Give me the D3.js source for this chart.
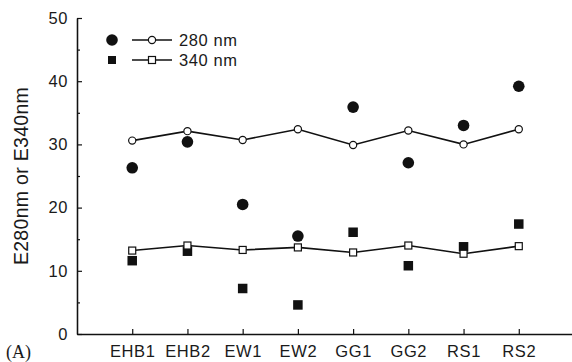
<!DOCTYPE html>
<html>
<head>
<meta charset="utf-8">
<script src="https://cdn.jsdelivr.net/npm/d3@7"></script>
<style>
  html, body { margin: 0; padding: 0; background: #fff; }
  svg text { font-family: "Liberation Sans", Arial, sans-serif; fill: #1a1a1a; }
</style>
</head>
<body>
<svg id="chart" width="572" height="362"></svg>
<script>
// Samples
const categories = ["EHB1", "EHB2", "EW1", "EW2", "GG1", "GG2", "RS1", "RS2"];

// Individual measurements (filled markers)
const e280Points = [26.3, 30.4, 20.5, 15.5, 35.9, 27.1, 33.0, 39.2];
const e340Points = [11.6, 13.1, 7.2, 4.6, 16.1, 10.8, 13.8, 17.4];

// Connected series (open markers)
const e280Line = [30.6, 32.1, 30.7, 32.4, 29.9, 32.2, 30.0, 32.4];
const e340Line = [13.2, 14.0, 13.3, 13.7, 12.9, 14.0, 12.7, 13.9];

const yMajorTicks = [0, 10, 20, 30, 40, 50];
const yMinorTicks = [5, 15, 25, 35, 45];
const legendLabels = ["280 nm", "340 nm"];

const svg = d3.select("#chart");
const plotLeft = 77, plotRight = 574, plotTop = 18, plotBottom = 334;

const x = d3.scalePoint().domain(categories).range([plotLeft, plotRight]).padding(1);
const y = d3.scaleLinear().domain([0, 50]).range([plotBottom, plotTop]);

// Axes (ticks point inward)
const gy = svg.append("g").attr("transform", `translate(${plotLeft},0)`);
gy.append("g").call(d3.axisLeft(y).tickValues(yMinorTicks).tickSizeInner(-3).tickSizeOuter(0).tickFormat(""));
gy.append("g").call(d3.axisLeft(y).tickValues(yMajorTicks).tickSizeInner(-5).tickSizeOuter(0).tickPadding(9));

const gx = svg.append("g").attr("transform", `translate(0,${plotBottom})`);
gx.call(d3.axisBottom(x).tickSizeInner(-5).tickSizeOuter(0).tickPadding(11));

svg.selectAll(".domain").attr("stroke", "#111").attr("stroke-width", 1.3);
svg.selectAll(".tick line").attr("stroke", "#111").attr("stroke-width", 1.2);
svg.selectAll(".tick text")
  .attr("font-size", 16.5)
  .attr("letter-spacing", 0.6)
  .style("font-family", "'Liberation Sans', Arial, sans-serif")
  .attr("fill", "#1a1a1a");

// Y axis title
svg.append("text")
  .attr("transform", `translate(28,${(plotTop + plotBottom) / 2}) rotate(-90)`)
  .attr("text-anchor", "middle")
  .attr("font-size", 19.5)
  .attr("letter-spacing", 0.3)
  .text("E280nm or E340nm");

// Panel label
svg.append("text")
  .attr("x", 6).attr("y", 358)
  .style("font-family", "'Liberation Serif', 'Times New Roman', serif")
  .attr("font-size", 18)
  .text("(A)");

// Filled markers (drawn beneath the connected series)
svg.append("g").selectAll("circle").data(e280Points).join("circle")
  .attr("cx", (d, i) => x(categories[i]))
  .attr("cy", d => y(d))
  .attr("r", 5.8)
  .attr("fill", "#111");

const fs = 9.5;
svg.append("g").selectAll("rect").data(e340Points).join("rect")
  .attr("x", (d, i) => x(categories[i]) - fs / 2)
  .attr("y", d => y(d) - fs / 2)
  .attr("width", fs).attr("height", fs)
  .attr("fill", "#111");

// Connected series
const line = d3.line().x((d, i) => x(categories[i])).y(d => y(d));
[e280Line, e340Line].forEach(s => {
  svg.append("path").datum(s)
    .attr("d", line)
    .attr("fill", "none")
    .attr("stroke", "#111")
    .attr("stroke-width", 1.6);
});

svg.append("g").selectAll("circle").data(e280Line).join("circle")
  .attr("cx", (d, i) => x(categories[i]))
  .attr("cy", d => y(d))
  .attr("r", 3.6)
  .attr("fill", "#fff")
  .attr("stroke", "#111")
  .attr("stroke-width", 1.2);

const os = 7;
svg.append("g").selectAll("rect").data(e340Line).join("rect")
  .attr("x", (d, i) => x(categories[i]) - os / 2)
  .attr("y", d => y(d) - os / 2)
  .attr("width", os).attr("height", os)
  .attr("fill", "#fff")
  .attr("stroke", "#111")
  .attr("stroke-width", 1.2);

// Legend
const lg = svg.append("g");
legendLabels.forEach((lab, i) => {
  const ly = 40 + i * 20;
  if (i === 0) {
    lg.append("circle").attr("cx", 112).attr("cy", ly).attr("r", 5.8).attr("fill", "#111");
  } else {
    lg.append("rect").attr("x", 108).attr("y", ly - 4).attr("width", 8).attr("height", 8).attr("fill", "#111");
  }
  lg.append("line").attr("x1", 132).attr("x2", 172).attr("y1", ly).attr("y2", ly)
    .attr("stroke", "#111").attr("stroke-width", 1.4);
  if (i === 0) {
    lg.append("circle").attr("cx", 152).attr("cy", ly).attr("r", 3.6)
      .attr("fill", "#fff").attr("stroke", "#111").attr("stroke-width", 1.2);
  } else {
    lg.append("rect").attr("x", 148.5).attr("y", ly - 3.5).attr("width", 7).attr("height", 7)
      .attr("fill", "#fff").attr("stroke", "#111").attr("stroke-width", 1.2);
  }
  lg.append("text").attr("x", 179).attr("y", ly + 6)
    .attr("font-size", 16.5).attr("letter-spacing", 0.6)
    .text(lab);
});
</script>
</body>
</html>
